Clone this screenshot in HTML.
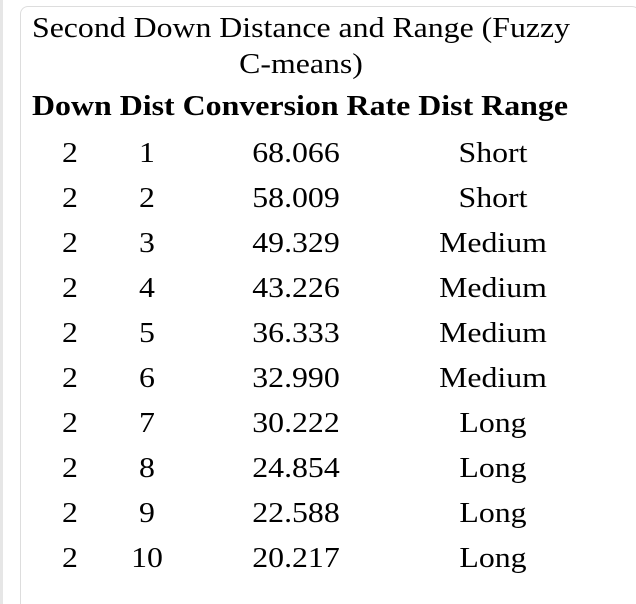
<!DOCTYPE html>
<html><head><meta charset="utf-8"><style>
html,body{margin:0;width:636px;height:604px;overflow:hidden}
body{background:#fff;position:relative;font-family:"Liberation Serif",serif;color:#000}
.lb{position:absolute;left:0;top:0;width:3px;height:604px;background:#e6e6e6}
.box{position:absolute;left:20px;top:6px;width:620px;height:610px;border:1.5px solid #ddd;border-radius:8px;box-sizing:border-box}
.t{position:absolute;font-size:29px;line-height:32px;white-space:nowrap;transform:translate(-50%,-50%)}
.b{font-weight:bold}
</style></head><body>
<div class="lb"></div>
<div class="box"></div>
<div class="t" id="title1" style="left:301px;top:28px">Second Down Distance and Range (Fuzzy</div>
<div class="t" style="left:301px;top:64px">C-means)</div>
<div class="t b" id="hdr" style="left:300px;top:106px"><span>Down</span> <span>Dist</span> <span>Conversion Rate</span> <span>Dist Range</span></div>
<div id="rows"></div>
<script>
const downs=[2,2,2,2,2,2,2,2,2,2];
const dists=[1,2,3,4,5,6,7,8,9,10];
const rates=["68.066","58.009","49.329","43.226","36.333","32.990","30.222","24.854","22.588","20.217"];
const ranges=["Short","Short","Medium","Medium","Medium","Medium","Long","Long","Long","Long"];
const host=document.getElementById('rows');
function cell(txt,x,y,name){
  const d=document.createElement('div');
  d.className='t';
  d.style.left=x+'px';d.style.top=y+'px';
  d.textContent=txt;
  
  
  host.appendChild(d);
}
for(let i=0;i<dists.length;i++){
  const y=153+45*i;
  cell(downs[i],70,y,'cell-down');
  cell(dists[i],147,y,'cell-dist');
  cell(rates[i],296,y,'cell-conversion-rate');
  cell(ranges[i],493,y,'cell-dist-range');
}
const t1=document.getElementById('title1');
const sx=538/t1.getBoundingClientRect().width;
document.querySelectorAll('.t:not(.b)').forEach(e=>{e.style.transform='translate(-50%,-50%) scaleX('+sx+')';});
const h=document.getElementById('hdr');
const hx=536/h.getBoundingClientRect().width;
h.style.transform='translate(-50%,-50%) scaleX('+hx+')';
</script>
</body></html>
